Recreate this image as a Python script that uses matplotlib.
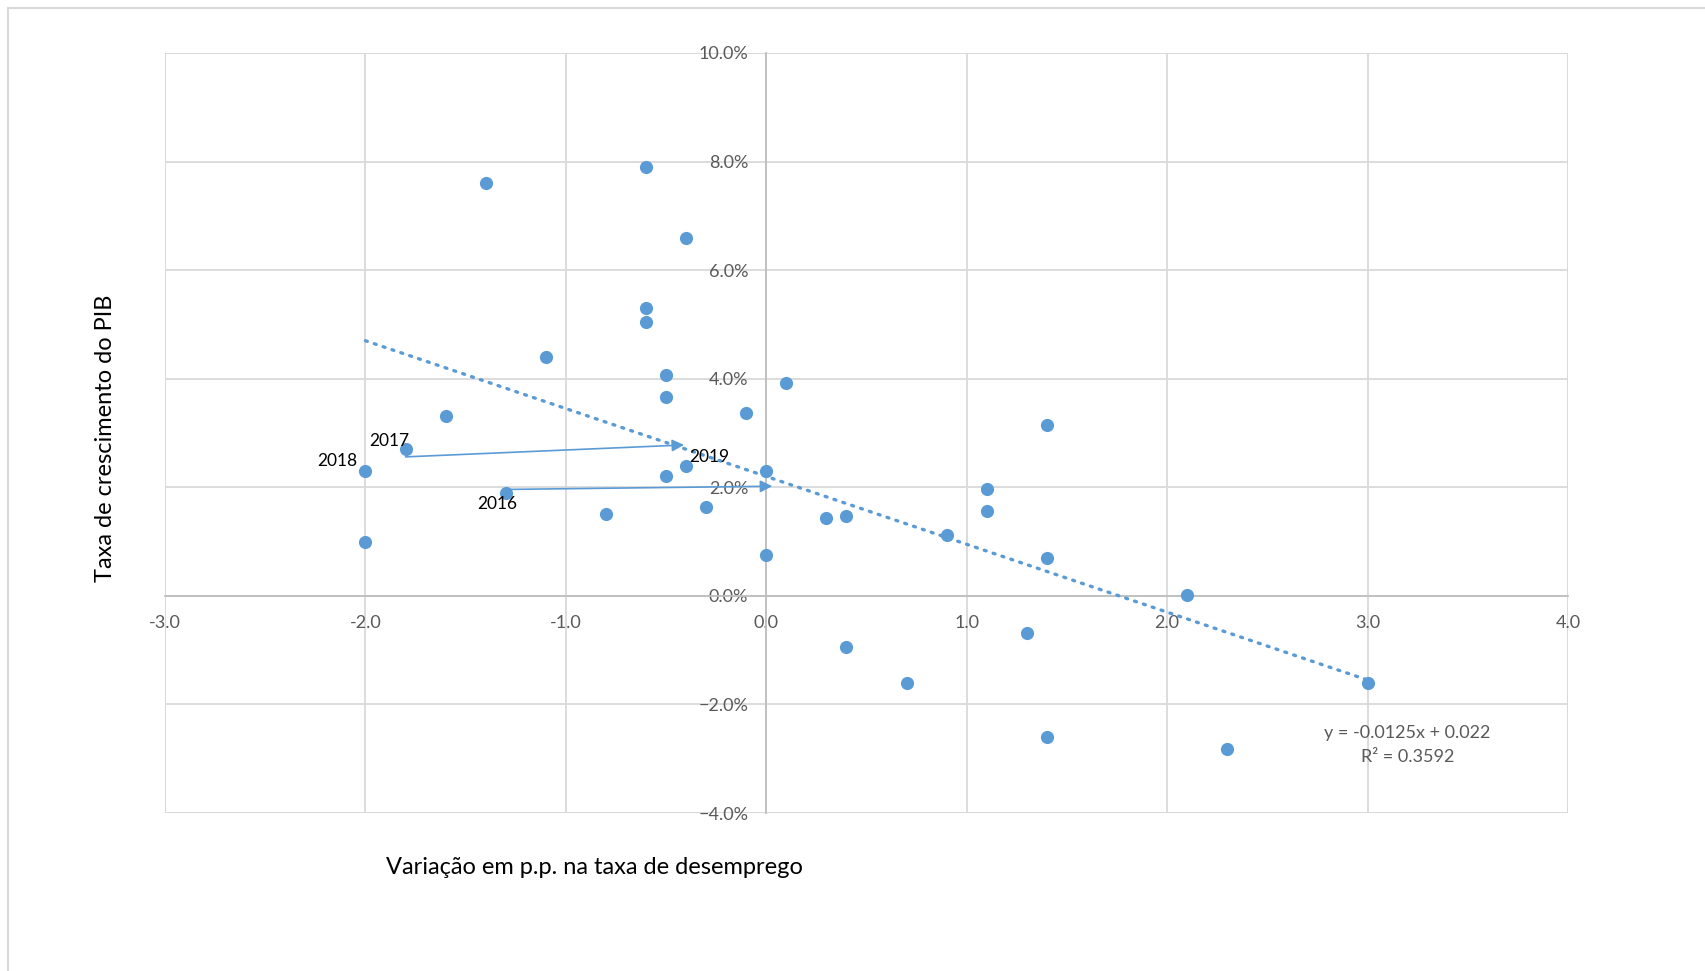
import matplotlib
matplotlib.use("Agg")
from matplotlib import pyplot as plt
from matplotlib.lines import Line2D
from matplotlib.patches import Rectangle
from matplotlib.ticker import PercentFormatter, MultipleLocator

plt.rcParams["font.family"] = ["Lato", "DejaVu Sans"]

# variation in unemployment rate (p.p.) and GDP growth (%)
desemprego = [-1.4, -0.6, -0.4, -0.6, -0.6, -1.1, -0.5, 0.1, -0.5, -1.6, -0.1, 1.4,
              -1.8, -2.0, -0.4, -0.5, 0.0, 1.1, -1.3, -0.3, 1.1, -0.8, 0.3, 0.4,
              0.9, -2.0, 0.0, 1.4, 2.1, 1.3, 0.4, 0.7, 3.0, 1.4, 2.3]
pib = [7.6, 7.9, 6.6, 5.3, 5.05, 4.4, 4.06, 3.92, 3.66, 3.32, 3.36, 3.14,
       2.7, 2.3, 2.4, 2.2, 2.3, 1.96, 1.9, 1.64, 1.56, 1.5, 1.44, 1.48,
       1.12, 1.0, 0.75, 0.69, 0.01, -0.69, -0.95, -1.6, -1.6, -2.6, -2.82]

# linear trend shown on the chart
slope = -0.0125
intercept = 0.022
r2 = 0.3592

# year labels and arrows
anos = ["2016", "2017", "2018", "2019"]
anos_x = [-1.3, -1.8, -2.0, -0.4]
anos_y = [1.9, 2.7, 2.3, 2.4]
setas_ini = [(-1.3, 1.96), (-1.8, 2.56)]
setas_fim = [(0.03, 2.02), (-0.41, 2.78)]

azul = "#5B9BD5"
cinza_txt = "#595959"
cinza_grade = "#D9D9D9"

fig = plt.figure(figsize=(17.06, 9.71), dpi=100)
ax = fig.add_axes([165/1706, 1 - 813/971, 1403/1706, 760/971])

ax.set_xlim(-3, 4)
ax.set_ylim(-0.04, 0.10)
ax.xaxis.set_major_locator(MultipleLocator(1))
ax.yaxis.set_major_locator(MultipleLocator(0.02))
ax.xaxis.set_major_formatter(lambda v, p: f"{v:.1f}")
ax.yaxis.set_major_formatter(PercentFormatter(1.0, decimals=1))
ax.grid(True, color=cinza_grade, linewidth=1.3)
ax.set_axisbelow(True)

# axes cross at zero, like excel
ax.spines["left"].set_position(("data", 0))
ax.spines["bottom"].set_position(("data", 0))
for s in ["left", "bottom"]:
    ax.spines[s].set_color("#BFBFBF")
    ax.spines[s].set_linewidth(1.3)
ax.spines["top"].set_visible(False)
ax.spines["right"].set_visible(False)
ax.add_patch(Rectangle((0, 0), 1, 1, transform=ax.transAxes, fill=False,
                       edgecolor=cinza_grade, linewidth=1.3, zorder=0.5))
ax.tick_params(length=0, labelsize=13, labelcolor=cinza_txt)
ax.tick_params(axis="y", pad=13)
ax.tick_params(axis="x", pad=14)

ax.scatter(desemprego, [v / 100 for v in pib], s=90, color=azul, zorder=3, linewidths=0)

# trendline over the data range
x0, x1 = min(desemprego), max(desemprego)
ax.plot([x0, x1], [slope * x0 + intercept, slope * x1 + intercept], color=azul,
        linestyle=(0, (0.6, 2.2)), linewidth=2.4, dash_capstyle="round", zorder=4)

for (xs, ys), (xe, ye) in zip(setas_ini, setas_fim):
    ax.annotate("", xy=(xe, ye / 100), xytext=(xs, ys / 100),
                arrowprops=dict(arrowstyle="-|>", color=azul, lw=1.2,
                                mutation_scale=18, shrinkA=0, shrinkB=0), zorder=5)

offs = {"2016": (-6, -8), "2017": (-12, 6), "2018": (-20, 7), "2019": (17, 6)}
for t, xv, yv in zip(anos, anos_x, anos_y):
    ax.annotate(t, (xv, yv / 100), xytext=offs[t], textcoords="offset points",
                ha="center", va="center", fontsize=12.5, color="black", zorder=6)

ax.text(3.2, -0.0275, f"y = {slope}x + {intercept}\nR² = {r2}", ha="center",
        va="center", fontsize=13, color=cinza_txt, linespacing=1.65)

fig.text(386/1706, 1 - 867/971, "Variação em p.p. na taxa de desemprego",
         ha="left", va="center", fontsize=17, color="black")
fig.text(106/1706, 1 - 438/971, "Taxa de crescimento do PIB", rotation=90,
         ha="center", va="center", fontsize=17, color="black")

# outer chart frame (cut at right and bottom)
fig.add_artist(Line2D([8/1706, 1], [1 - 8/971, 1 - 8/971], color=cinza_grade, lw=1.5))
fig.add_artist(Line2D([8/1706, 8/1706], [0, 1 - 8/971], color=cinza_grade, lw=1.5))

fig.savefig("out.png", dpi=100)
